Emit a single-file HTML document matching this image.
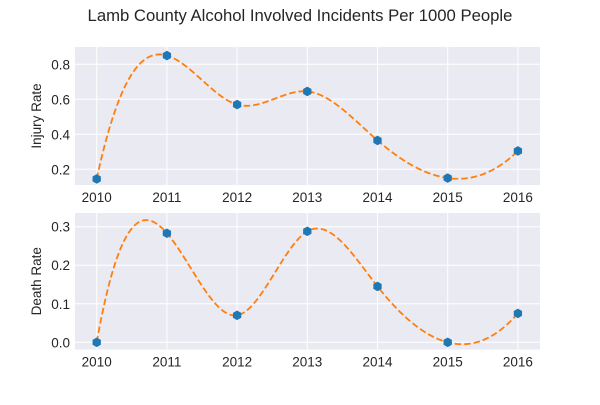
<!DOCTYPE html>
<html><head><meta charset="utf-8"><style>
body{margin:0;background:#fff;width:600px;height:400px;overflow:hidden}
svg text{font-family:"Liberation Sans","DejaVu Sans",sans-serif;fill:#262626}
</style></head><body>
<svg id="chart" width="600" height="400" xmlns="http://www.w3.org/2000/svg">
<text x="300" y="21" font-size="16.7" text-anchor="middle">Lamb County Alcohol Involved Incidents Per 1000 People</text>
</svg>
<script>
const years=[2010,2011,2012,2013,2014,2015,2016];
const injury=[0.145,0.85,0.57,0.645,0.365,0.15,0.305];
const death=[0,0.283,0.07,0.288,0.145,0,0.075];
const injuryTicks=[0.2,0.4,0.6,0.8];
const deathTicks=[0.0,0.1,0.2,0.3];
const NS='http://www.w3.org/2000/svg';
const svg=document.getElementById('chart');
function mk(t,a,p){const e=document.createElementNS(NS,t);for(const k in a)e.setAttribute(k,a[k]);(p||svg).appendChild(e);return e;}
function spline(ys){const n=ys.length;const A=[],b=[];
 for(let i=0;i<n;i++){A.push(new Array(n).fill(0));b.push(0);}
 A[0][0]=1;A[0][1]=-2;A[0][2]=1;
 A[n-1][n-1]=1;A[n-1][n-2]=-2;A[n-1][n-3]=1;
 for(let i=1;i<n-1;i++){A[i][i-1]=1;A[i][i]=4;A[i][i+1]=1;b[i]=6*(ys[i+1]-2*ys[i]+ys[i-1]);}
 for(let c=0;c<n;c++){let p=c;for(let r=c+1;r<n;r++)if(Math.abs(A[r][c])>Math.abs(A[p][c]))p=r;
  [A[c],A[p]]=[A[p],A[c]];[b[c],b[p]]=[b[p],b[c]];
  for(let r=0;r<n;r++){if(r===c)continue;const f=A[r][c]/A[c][c];for(let k=c;k<n;k++)A[r][k]-=f*A[c][k];b[r]-=f*b[c];}}
 const M=b.map((v,i)=>v/A[i][i]);
 return t=>{let i=Math.min(Math.floor(t),n-2);if(i<0)i=0;const a=t-i,bb=1-a;
  return M[i]*bb*bb*bb/6+M[i+1]*a*a*a/6+(ys[i]-M[i]/6)*bb+(ys[i+1]-M[i+1]/6)*a;};}
function panel(name,ys,ticks,top,bottom,yref0,yv0,yref1,yv1,label,dec){
 const L=75,R=540;
 const xs=y=>96.7+(y-2010)*70.2;
 const ysc=v=>yref0+(v-yv0)*(yref1-yref0)/(yv1-yv0);
 const g=mk('g',{});
 mk('rect',{x:L,y:top,width:R-L,height:bottom-top,fill:'#eaeaf2'},g);
 ticks.forEach(t=>{const y=ysc(t);mk('line',{x1:L,x2:R,y1:y,y2:y,stroke:'#fff','stroke-width':1},g);
  const tx=mk('text',{x:L-5,y:y+5,'font-size':13.5,'text-anchor':'end'},g);tx.textContent=t.toFixed(dec);
  });
 years.forEach(yr=>{const x=xs(yr);mk('line',{x1:x,x2:x,y1:top,y2:bottom,stroke:'#fff','stroke-width':1},g);
  const tx=mk('text',{x:x,y:bottom+17,'font-size':13.5,'text-anchor':'middle'},g);tx.textContent=yr;
  });
 const yl=mk('text',{x:0,y:0,'font-size':13.5,'text-anchor':'middle',transform:`translate(41,${(top+bottom)/2}) rotate(-90)`},g);
 yl.textContent=label;
 const f=spline(ys);let d='';
 for(let k=0;k<=300;k++){const t=k/300*(ys.length-1);d+=(k?'L':'M')+xs(2010+t).toFixed(2)+','+ysc(f(t)).toFixed(2);}
 const p=mk('path',{d:d,fill:'none',stroke:'#ff7f0e','stroke-width':1.8,'stroke-dasharray':'6.5,3'},g);
 
 ys.forEach((v,i)=>{const cx=xs(years[i]),cy=ysc(v),r=4.8;let pts=[];
  for(let k=0;k<6;k++){const a=Math.PI/3*k+Math.PI/6;pts.push((cx+r*Math.cos(a)).toFixed(2)+','+(cy+r*Math.sin(a)).toFixed(2));}
  const m=mk('polygon',{points:pts.join(' '),fill:'#1f77b4'},g);
  });
}
panel('injury',injury,injuryTicks,47,185,64.3,0.8,169.3,0.2,'Injury Rate',1);
panel('death',death,deathTicks,213,349.5,342.3,0,226.7,0.3,'Death Rate',1);
</script>
</body></html>
